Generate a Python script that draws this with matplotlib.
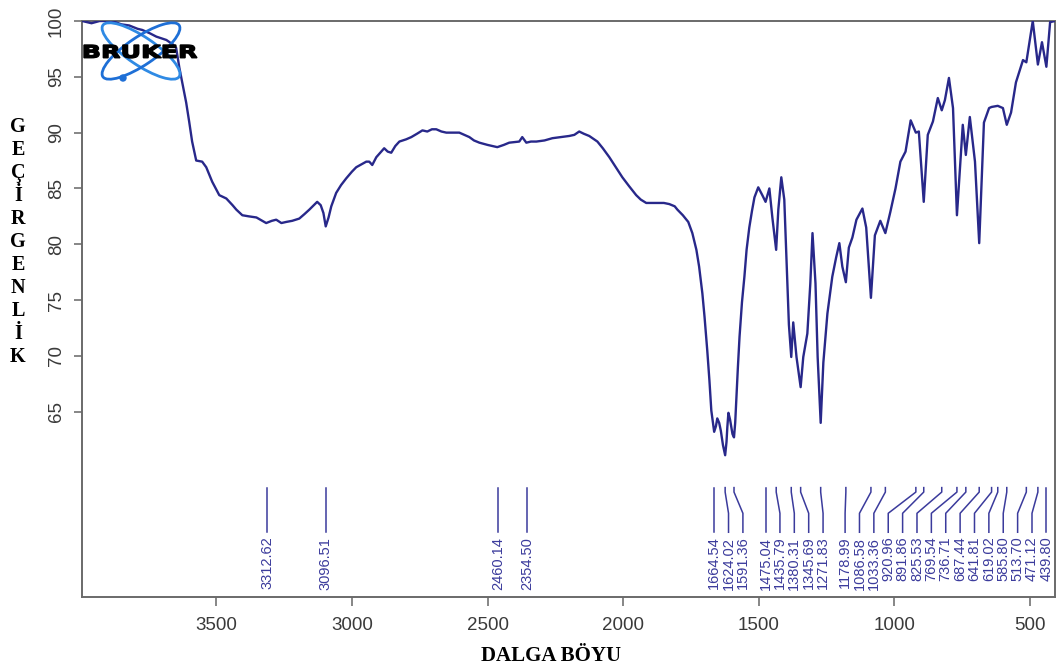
import matplotlib
matplotlib.use("Agg")
import matplotlib.pyplot as plt
from matplotlib.patches import Ellipse, Circle, PathPatch
from matplotlib.textpath import TextPath
from matplotlib.font_manager import FontProperties
from matplotlib.transforms import Affine2D

# FTIR spectrum read point by point (wavenumber in cm-1, transmittance in %)
wavenumber = [
    3994, 3960, 3930, 3883, 3850, 3821, 3790, 3773, 3745, 3721, 3684, 3660,
    3648, 3636, 3623, 3611, 3600, 3589, 3574, 3552, 3537, 3515, 3489, 3463,
    3440, 3426, 3404, 3380, 3352, 3330, 3316, 3295, 3279, 3260, 3242, 3220,
    3194, 3175, 3157, 3128, 3115, 3105, 3096.5, 3086, 3076, 3058, 3040, 3021, 3000,
    2984, 2947, 2936, 2925, 2910, 2881, 2868, 2855, 2840, 2825, 2800, 2781,
    2760, 2740, 2722, 2705, 2689, 2670, 2652, 2630, 2604, 2585, 2567, 2550,
    2530, 2500, 2464, 2440, 2420, 2383, 2372, 2357, 2340, 2320, 2290, 2261,
    2230, 2199, 2180, 2162, 2145, 2125, 2095, 2075, 2051, 2027, 2003, 1978,
    1952, 1935, 1915, 1890, 1867, 1850, 1830, 1810, 1800, 1780, 1760, 1745,
    1730, 1720, 1708, 1700, 1690, 1682, 1675, 1668, 1664.5, 1658, 1653, 1646,
    1640, 1632, 1624, 1619, 1616, 1612, 1606, 1597, 1591.4, 1587, 1583, 1577,
    1571, 1562, 1553, 1545, 1535, 1525, 1516,
    1502, 1487, 1475, 1461, 1450, 1436, 1428, 1417, 1406, 1400, 1395, 1389,
    1380.3, 1373, 1361, 1345.7, 1336, 1321, 1310, 1302, 1291, 1283, 1271.8,
    1262, 1247, 1229, 1215, 1203, 1192, 1179, 1168, 1155, 1140, 1118, 1104,
    1086.6, 1072, 1052, 1033.4, 1015, 996, 978, 959, 940, 921, 910, 891.9,
    877, 858, 840, 825.5, 814, 799, 784, 769.5, 748, 736.7, 722, 703, 687.4,
    670, 651, 641.8, 619, 600, 585.8, 570, 552, 526, 513.7, 490, 471.1, 456,
    439.8, 426, 408,
]
transmittance = [
    100.0, 99.8, 100.0, 100.0, 99.7, 99.6, 99.3, 99.2, 98.9, 98.6, 98.3, 97.9,
    97.6, 95.8, 94.2, 92.7, 91.0, 89.2, 87.5, 87.4, 86.9, 85.6, 84.4, 84.1,
    83.5, 83.1, 82.6, 82.5, 82.4, 82.1, 81.9, 82.1, 82.2, 81.9, 82.0, 82.1,
    82.3, 82.7, 83.1, 83.8, 83.5, 82.8, 81.6, 82.4, 83.4, 84.6, 85.3, 85.9, 86.5,
    86.9, 87.4, 87.4, 87.1, 87.8, 88.6, 88.3, 88.2, 88.8, 89.2, 89.4, 89.6,
    89.9, 90.2, 90.1, 90.3, 90.3, 90.1, 90.0, 90.0, 90.0, 89.8, 89.6, 89.3,
    89.1, 88.9, 88.7, 88.9, 89.1, 89.2, 89.6, 89.1, 89.2, 89.2, 89.3, 89.5,
    89.6, 89.7, 89.8, 90.1, 89.9, 89.7, 89.2, 88.6, 87.8, 86.9, 86.0, 85.2,
    84.4, 84.0, 83.7, 83.7, 83.7, 83.7, 83.6, 83.4, 83.1, 82.6, 82.0, 81.0,
    79.5, 78.0, 75.6, 73.5, 70.5, 67.8, 65.1, 63.8, 63.2, 63.7, 64.4, 64.0,
    63.3, 62.0, 61.1, 62.3, 63.6, 64.9, 64.3, 63.0, 62.7, 64.0, 66.0, 69.0,
    71.7, 74.8, 77.1, 79.5, 81.5, 83.0, 84.2,
    85.1, 84.4, 83.8, 85.0, 82.4, 79.5, 83.1, 86.0, 84.0, 80.0, 76.5, 72.8,
    69.9, 73.0, 69.9, 67.2, 69.9, 72.0, 76.5, 81.0, 76.5, 69.9, 64.0,
    69.4, 73.8, 77.1, 78.8, 80.1, 78.0, 76.6, 79.7, 80.6, 82.2, 83.2, 81.5,
    75.2, 80.8, 82.1, 81.0, 82.9, 85.0, 87.4, 88.3, 91.1, 90.0, 90.1, 83.8,
    89.8, 91.0, 93.1, 92.0, 92.9, 94.9, 92.2, 82.6, 90.7, 88.0, 91.4, 87.4, 80.1,
    90.9, 92.2, 92.3, 92.4, 92.2, 90.7, 91.8, 94.5, 96.5, 96.3, 100.0, 96.1, 98.1,
    95.9, 99.9, 100.0,
]

# picked peaks
peaks = [3312.62, 3096.51, 2460.14, 2354.50, 1664.54, 1624.02, 1591.36,
         1475.04, 1435.79, 1380.31, 1345.69, 1271.83, 1178.99, 1086.58,
         1033.36, 920.96, 891.86, 825.53, 769.54, 736.71, 687.44, 641.81,
         619.02, 585.80, 513.70, 471.12, 439.80]

y_ticks = [65, 70, 75, 80, 85, 90, 95, 100]
x_ticks = [3500, 3000, 2500, 2000, 1500, 1000, 500]

line_col = "#28288a"
peak_col = "#3b3b9c"
tick_col = "#3a3a3a"

fig = plt.figure(figsize=(10.59, 6.72), dpi=100)
ax = fig.add_axes([82 / 1059, 1 - 597 / 672, (1055 - 82) / 1059, (597 - 21) / 672])

ax.plot(wavenumber, transmittance, color=line_col, lw=1.7, zorder=3)
ax.set_xlim(3995, 408)
ax.set_ylim(48.4, 100)

# spread peak labels so they do not overlap
gap = 53
pos = list(peaks)
for i in range(1, len(pos)):
    pos[i] = min(pos[i], pos[i - 1] - gap)
pos[-1] = max(pos[-1], peaks[-1])
for i in range(len(pos) - 2, -1, -1):
    pos[i] = max(pos[i], pos[i + 1] + gap)

for p, q in zip(peaks, pos):
    ax.plot([p, p, q, q], [58.2, 57.8, 55.9, 54.2], color=peak_col, lw=1.1)
    ax.text(q, 53.8, f"{p:.2f}", rotation=90, ha="center", va="top",
            fontsize=10.5, color=peak_col, family="Liberation Sans")

ax.set_xticks(x_ticks)
ax.set_yticks(y_ticks)
ax.set_xticklabels([str(t) for t in x_ticks], family="Liberation Sans",
                   fontsize=13.5, color=tick_col)
ax.set_yticklabels([str(t) for t in y_ticks], family="Liberation Sans",
                   fontsize=13.5, color=tick_col, rotation=90, va="center")
ax.tick_params(axis="x", length=6.5, width=1.1, color="#666666", pad=8)
ax.tick_params(axis="y", length=5.5, width=1.1, color="#666666", pad=7)
for s in ax.spines.values():
    s.set_color("#6a6a6a")
    s.set_linewidth(1.4)

fig.text(18 / 1059, 1 - 242 / 672, "\n".join("GEÇİRGENLİK"), ha="center",
         va="center", family="Liberation Serif", weight="bold", fontsize=14.5,
         linespacing=1.2)
fig.text(551 / 1059, 1 - 656 / 672, "DALGA BÖYU", ha="center", va="center",
         family="Liberation Serif", weight="bold", fontsize=15)

# logo in the upper left corner, drawn in inches from the figure's bottom left
inch = fig.dpi_scale_trans
for ang, col in [(-34, "#2f8ae4"), (34, "#1e6fd6")]:
    fig.add_artist(Ellipse((1.41, (672 - 51) / 100), 0.92, 0.28, angle=ang,
                           fill=False, ec=col, lw=2.0, transform=inch, zorder=5))
fig.add_artist(Circle((1.23, (672 - 78) / 100), 0.03, color="#1e6fd6",
                      transform=inch, zorder=5))
tp = TextPath((0, 0), "BRUKER", size=1,
              prop=FontProperties(family="DejaVu Sans", weight="bold"))
ext = tp.get_extents()
x0, x1 = 0.84, 1.97
y0, y1 = (672 - 58) / 100, (672 - 45) / 100
tr = (Affine2D().translate(-ext.x0, -ext.y0)
      .scale((x1 - x0) / ext.width, (y1 - y0) / ext.height)
      .translate(x0, y0) + inch)
fig.add_artist(PathPatch(tp, transform=tr, color="black", zorder=6))

fig.savefig("out.png", dpi=100)
